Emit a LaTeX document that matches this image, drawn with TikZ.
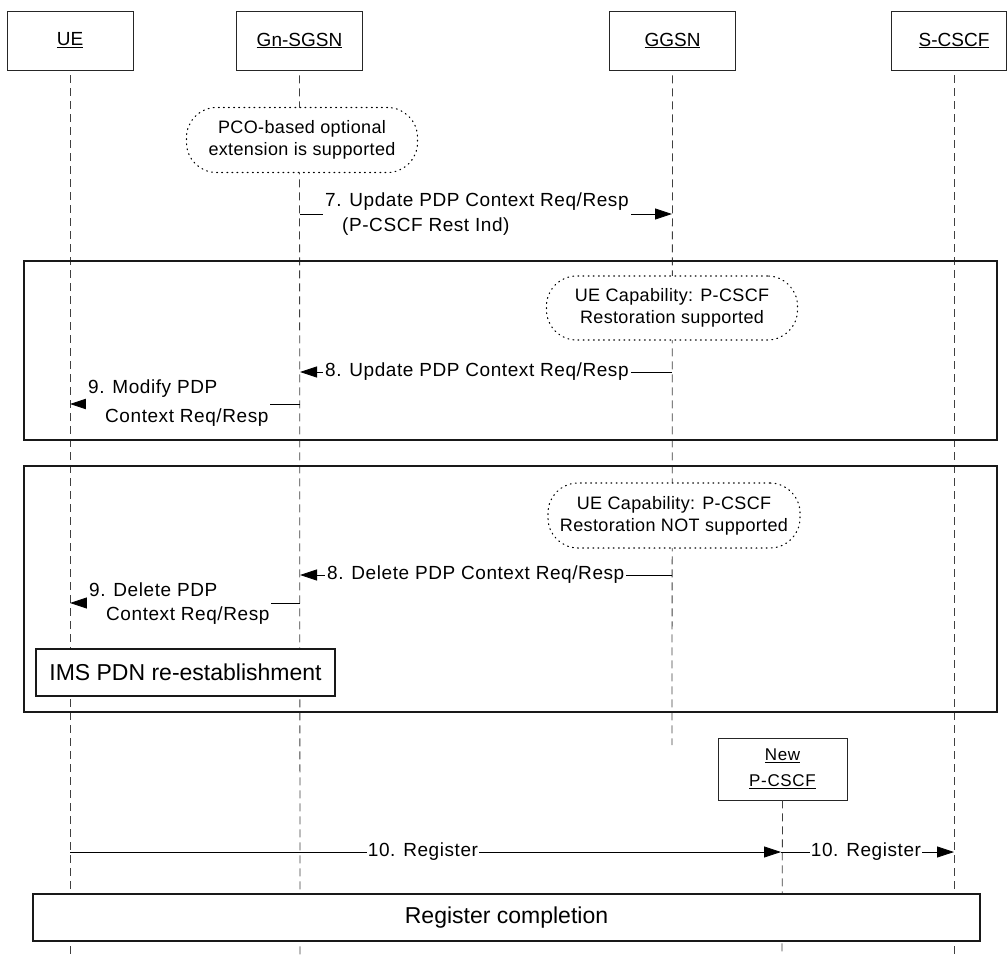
\documentclass[tikz,border=0pt]{standalone}
\usepackage{fontspec}
\setmainfont{Liberation Sans}
\newfontfamily\msgfont{Liberation Sans}[LetterSpace=3]
\newfontfamily\ellfont{Liberation Sans}[LetterSpace=2]
\newfontfamily\pcfont{Liberation Sans}[LetterSpace=4]
\usetikzlibrary{arrows.meta}
\begin{document}
\begin{tikzpicture}[x=1pt,y=-1pt,
  hdr/.style={draw=black!85, line width=0.8pt, fill=white, minimum width=126pt, minimum height=59pt, inner sep=0pt, font=\fontsize{19}{22}\selectfont, align=center},
  life/.style={draw=black!75, line width=0.8pt, dash pattern=on 8pt off 5pt},
  note/.style={draw=black, line width=1.1pt, dash pattern=on 0.9pt off 4.2pt, line cap=round, fill=white, rounded corners=30pt, inner sep=0pt, align=center, font=\ellfont\fontsize{18}{22}\selectfont},
  frm/.style={draw=black!90, line width=1.4pt, inner sep=0pt},
  bigbox/.style={draw=black!90, line width=1.1pt, fill=white, inner sep=0pt, font=\fontsize{23}{26}\selectfont},
  msg/.style={draw=black, line width=0.8pt, -{Triangle[length=17pt,width=11pt]}},
  lbl/.style={fill=white, inner xsep=2pt, inner ysep=1pt, align=left, font=\msgfont\fontsize{19}{25}\selectfont}
]
\useasboundingbox (0,0) rectangle (1008,956);

% header boxes
\node[hdr] (ue) at (70,40.5) {\underline{UE}};
\node[hdr] (sgsn) at (299.5,40.5) {\underline{Gn-SGSN}};
\node[hdr] (ggsn) at (672.5,40.5) {\underline{GGSN}};
\node[font=\fontsize{19}{22}\selectfont, inner sep=0pt] (scscf) at (954,40.5) {\underline{S-CSCF}};
\draw[draw=black!85, line width=0.8pt] (891,11) rectangle (1006.5,70);

% lifeline ends
\coordinate (ueend) at (70,956);
\coordinate (sgsnend) at (300,956);
\coordinate (ggsnend) at (672,745);
\coordinate (scscfend) at (954,956);
\coordinate (scscftop) at (954,75);
\coordinate (pcend) at (782,956);

\draw[life] ([yshift=-5pt]ue.south) -- (ueend);
\draw[life] ([yshift=-5pt]sgsn.south) -- (sgsnend);
\draw[life] ([yshift=-5pt]ggsn.south) -- (ggsnend);
\draw[life] (scscftop) -- (scscfend);

% New P-CSCF
\node[hdr, minimum width=129pt, minimum height=62pt, font=\pcfont\fontsize{17}{26}\selectfont] (pcscf) at (782.5,769) {\underline{New}\\\underline{P-CSCF}};
\draw[life] (pcscf.south) -- (pcend);

% frames
\node[frm, minimum width=973pt, minimum height=179pt] (f1) at (510.5,350.5) {};
\node[frm, minimum width=973pt, minimum height=246pt] (f2) at (510.5,589) {};

% notes
\node[note, minimum width=231pt, minimum height=65pt] (n1) at (302,140) {PCO-based optional\\extension is supported};
\node[note, minimum width=251pt, minimum height=64pt] (n2) at (672,308) {UE Capability: P-CSCF\\Restoration supported};
\node[note, minimum width=252pt, minimum height=65pt] (n3) at (674,515.5) {UE Capability: P-CSCF\\Restoration NOT supported};

% message 7
\coordinate (m7a) at (300,214);
\coordinate (m7b) at (672,214);
\draw[msg] (m7a) -- (m7b);
\node[lbl, anchor=west] (l7) at (323,214) {7. Update PDP Context Req/Resp\\\hspace*{17pt}(P-CSCF Rest Ind)};

% message 8 update
\coordinate (m8a) at (672,372);
\coordinate (m8b) at (300,372);
\draw[msg] (m8a) -- (m8b);
\node[lbl, anchor=west] (l8) at (323,372) {8. Update PDP Context Req/Resp};

% message 9 modify
\coordinate (m9a) at (300,404);
\coordinate (m9b) at (70,404);
\draw[msg] (m9a) -- (m9b);
\node[lbl, anchor=west, font=\msgfont\fontsize{19}{29}\selectfont] (l9) at (86,403) {9. Modify PDP\\\hspace*{17pt}Context Req/Resp};

% message 8 delete
\coordinate (d8a) at (672,575);
\coordinate (d8b) at (300,575);
\draw[msg] (d8a) -- (d8b);
\node[lbl, anchor=west] (ld8) at (325,575) {8. Delete PDP Context Req/Resp};

% message 9 delete
\coordinate (d9a) at (300,603);
\coordinate (d9b) at (70,603);
\draw[msg] (d9a) -- (d9b);
\node[lbl, anchor=west, font=\msgfont\fontsize{19}{24}\selectfont] (ld9) at (87,604) {9. Delete PDP\\\hspace*{17pt}Context Req/Resp};

% IMS PDN box
\node[bigbox, minimum width=299pt, minimum height=47pt] (ims) at (185.5,672.5) {IMS PDN re-establishment};

% message 10
\coordinate (r1a) at (70,852);
\coordinate (r1b) at (781,852);
\coordinate (r2b) at (954,852);
\draw[msg] (r1a) -- (r1b);
\draw[msg] (r1b) -- (r2b);
\node[lbl, inner xsep=1pt] (lr1) at (423,852) {10. Register};
\node[lbl, inner xsep=1pt] (lr2) at (866,852) {10. Register};

% register completion
\node[bigbox, minimum width=947pt, minimum height=47pt] (reg) at (506.5,917.5) {Register completion};
\end{tikzpicture}
\end{document}
